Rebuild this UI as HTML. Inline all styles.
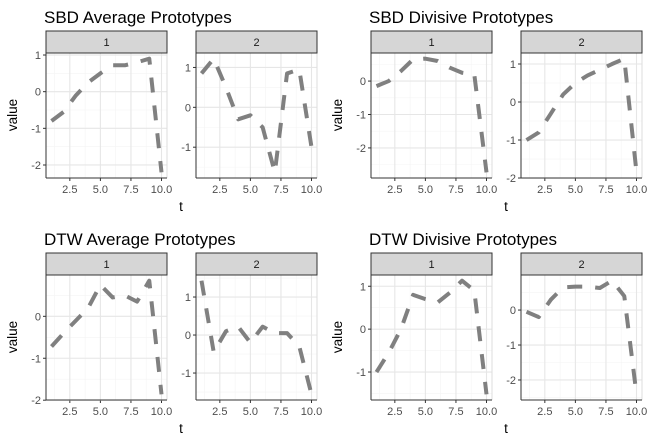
<!DOCTYPE html>
<html><head><meta charset="utf-8"><style>
body{margin:0;background:#fff}
svg{display:block;font-family:"Liberation Sans",sans-serif}
</style></head><body>
<svg id="c" width="650" height="443" viewBox="0 0 650 443"></svg>
<script>
const tValues=[1,2,3,4,5,6,7,8,9,10];
const xTicks=[2.5,5,7.5,10];
const xTickLabels=["2.5","5.0","7.5","10.0"];
const sbdAvg1=[-0.8,-0.55,-0.1,0.25,0.5,0.72,0.72,0.8,0.9,-2.2];
const sbdAvg2=[0.85,1.22,0.5,-0.3,-0.2,-0.5,-1.63,0.85,0.95,-1.0];
const sbdDiv1=[-0.15,0,0.3,0.65,0.67,0.6,0.4,0.25,0.2,-2.73];
const sbdDiv2=[-1.0,-0.8,-0.3,0.2,0.5,0.7,0.85,1.0,1.14,-1.85];
const dtwAvg1=[-0.72,-0.4,-0.1,0.2,0.75,0.45,0.5,0.35,0.85,-1.86];
const dtwAvg2=[1.43,-0.45,0.1,0.22,-0.2,0.22,0.05,0.05,-0.3,-1.56];
const dtwDiv1=[-1.0,-0.55,0.0,0.8,0.7,0.62,0.85,1.13,0.9,-1.52];
const dtwDiv2=[-0.05,-0.2,0.3,0.65,0.67,0.67,0.63,0.84,0.4,-2.41];
const titles=["SBD Average Prototypes","SBD Divisive Prototypes","DTW Average Prototypes","DTW Divisive Prototypes"];
const groups=[[sbdAvg1,sbdAvg2],[sbdDiv1,sbdDiv2],[dtwAvg1,dtwAvg2],[dtwDiv1,dtwDiv2]];
const yTickSets=[[[-2,-1,0,1],[-1,0,1]],[[-2,-1,0],[-2,-1,0,1]],[[-2,-1,0],[-1,0,1]],[[-1,0,1],[-2,-1,0]]];

const svg=document.getElementById('c');
const NS="http://www.w3.org/2000/svg";
function mk(tag,attrs,parent,text){const e=document.createElementNS(NS,tag);for(const k in attrs)e.setAttribute(k,attrs[k]);if(text!==undefined)e.textContent=text;(parent||svg).appendChild(e);return e;}

groups.forEach((pair,gi)=>{
  const ox=(gi%2)*325, oy=Math.floor(gi/2)*222;
  const g=mk('g',{});
  
  
  const tt=mk('text',{x:ox+44,y:oy+23,'font-size':17,fill:'#000'},g,titles[gi]);
  
  
  const yl=mk('text',{x:0,y:0,'font-size':13.5,'text-anchor':'middle',transform:`translate(${ox+17},${oy+115}) rotate(-90)`},g,'value');
  
  
  const xl=mk('text',{x:ox+181,y:oy+211,'font-size':13.5,'text-anchor':'middle'},g,'t');
  
  
  pair.forEach((vals,pi)=>{
    const L=ox+46+pi*150, R=L+121, T=oy+53, B=oy+178;
    let mn=Math.min(...vals), mx=Math.max(...vals), pad=(mx-mn)*0.05;
    const y0=mn-pad, y1=mx+pad;
    const sx=v=>L+(v-0.55)/(9.9)*(R-L);
    const sy=v=>B-(v-y0)/(y1-y0)*(B-T);
    const p=mk('g',{},g);
    
    
    mk('rect',{x:L,y:T,width:R-L,height:B-T,fill:'#fff'},p);
    [1.25,3.75,6.25,8.75].forEach(v=>mk('line',{x1:sx(v),x2:sx(v),y1:T,y2:B,stroke:'#f4f4f4','stroke-width':0.6},p));
    const yt=yTickSets[gi][pi];
    for(let v=Math.floor(y0)-0.5;v<=y1;v+=1){if(v>=y0)mk('line',{x1:L,x2:R,y1:sy(v),y2:sy(v),stroke:'#f4f4f4','stroke-width':0.6},p);}
    xTicks.forEach((v,i)=>{
      mk('line',{x1:sx(v),x2:sx(v),y1:T,y2:B,stroke:'#e6e6e6','stroke-width':1.1},p);
      mk('line',{x1:sx(v),x2:sx(v),y1:B,y2:B+3,stroke:'#333','stroke-width':1},p);
      const tl=mk('text',{x:sx(v),y:B+15,'font-size':11,'text-anchor':'middle',fill:'#4d4d4d'},p,xTickLabels[i]);
      
      
    });
    yt.forEach(v=>{
      mk('line',{x1:L,x2:R,y1:sy(v),y2:sy(v),stroke:'#e6e6e6','stroke-width':1.1},p);
      mk('line',{x1:L-3,x2:L,y1:sy(v),y2:sy(v),stroke:'#333','stroke-width':1},p);
      const tl=mk('text',{x:L-5,y:sy(v)+4,'font-size':11,'text-anchor':'end',fill:'#4d4d4d'},p,String(v));
      
      
    });
    mk('line',{x1:R,x2:R,y1:T,y2:B,stroke:'#ddd','stroke-width':1},p);
    mk('line',{x1:L,x2:L,y1:T,y2:B,stroke:'#333','stroke-width':1},p);
    mk('line',{x1:L,x2:R,y1:B,y2:B,stroke:'#333','stroke-width':1},p);
    const pts=vals.map((v,i)=>sx(tValues[i])+','+sy(v)).join(' ');
    const line=mk('polyline',{points:pts,fill:'none',stroke:'#808080','stroke-width':4,'stroke-dasharray':'15 13','stroke-linejoin':'round'},p);
    
    
    const st=mk('rect',{x:L,y:oy+31,width:R-L,height:22,fill:'#d6d6d6',stroke:'#333','stroke-width':1},p);
    
    
    const sl=mk('text',{x:(L+R)/2,y:oy+46,'font-size':11,'text-anchor':'middle',fill:'#1a1a1a'},p,String(pi+1));
    
    
  });
});
</script>
</body></html>
